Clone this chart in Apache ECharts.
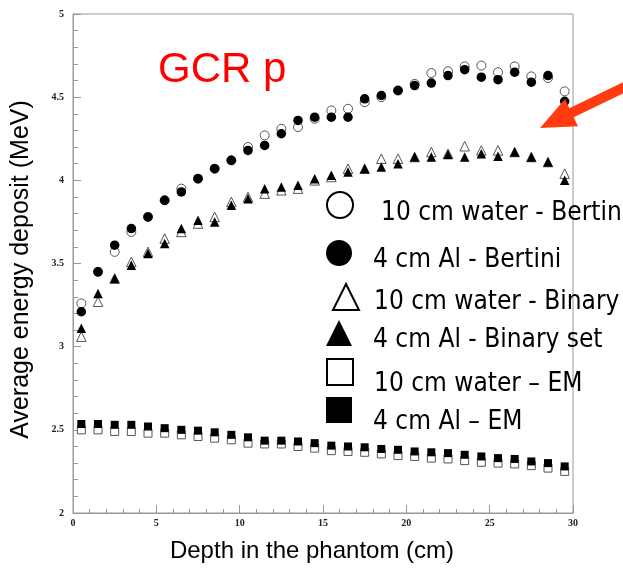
<!DOCTYPE html>
<html>
<head>
<meta charset="utf-8">
<script src="https://cdn.jsdelivr.net/npm/echarts@6/dist/echarts.min.js"></script>
<style>html,body{margin:0;padding:0;background:#fff}#c{width:623px;height:569px}</style>
</head>
<body>
<div id="c"></div>
<script>
const depth = [0.5,1.5,2.5,3.5,4.5,5.5,6.5,7.5,8.5,9.5,10.5,11.5,12.5,13.5,14.5,15.5,16.5,17.5,18.5,19.5,20.5,21.5,22.5,23.5,24.5,25.5,26.5,27.5,28.5,29.5];
const waterBertini = [3.26,3.45,3.57,3.69,3.78,3.88,3.95,4.01,4.07,4.12,4.20,4.27,4.31,4.32,4.37,4.42,4.43,4.47,4.50,4.54,4.58,4.645,4.655,4.685,4.69,4.65,4.685,4.625,4.615,4.535];
const alBertini = [3.21,3.45,3.61,3.71,3.78,3.88,3.93,4.01,4.07,4.12,4.18,4.21,4.28,4.36,4.38,4.38,4.38,4.49,4.51,4.54,4.57,4.585,4.63,4.665,4.62,4.605,4.65,4.59,4.63,4.475];
const waterBinary = [3.06,3.27,3.41,3.51,3.57,3.65,3.69,3.74,3.78,3.87,3.90,3.92,3.94,3.95,4.00,4.02,4.07,4.07,4.13,4.13,4.14,4.17,4.16,4.205,4.18,4.18,4.17,4.14,4.11,4.04];
const alBinary = [3.11,3.32,3.41,3.49,3.56,3.62,3.71,3.76,3.75,3.85,3.89,3.95,3.96,3.97,4.01,4.03,4.05,4.07,4.08,4.10,4.14,4.14,4.155,4.14,4.16,4.145,4.17,4.14,4.11,4.00];
const waterEM = [2.50,2.50,2.49,2.49,2.48,2.48,2.47,2.46,2.45,2.44,2.42,2.415,2.415,2.40,2.39,2.375,2.37,2.365,2.355,2.345,2.34,2.33,2.325,2.315,2.305,2.30,2.295,2.285,2.27,2.25];
const alEM = [2.535,2.535,2.53,2.53,2.52,2.51,2.50,2.495,2.485,2.47,2.455,2.435,2.435,2.43,2.42,2.405,2.40,2.395,2.385,2.38,2.37,2.365,2.36,2.35,2.34,2.33,2.325,2.31,2.30,2.28];
const seriesNames = ['10 cm water - Bertini','4 cm Al - Bertini','10 cm water - Binary','4 cm Al - Binary set','10 cm water \u2013 EM','4 cm Al \u2013 EM'];
const xTitle = 'Depth in the phantom (cm)';
const yTitle = 'Average energy deposit (MeV)';
const chartTitle = 'GCR p';

const pairs = vals => depth.map((d, i) => [d, vals[i]]);
const narrow = '"Liberation Sans Narrow", "Arial Narrow", "DejaVu Sans Condensed", sans-serif';
const sans = '"Liberation Sans", Arial, sans-serif';
const serif = '"Liberation Serif", "Times New Roman", serif';

const openStyle = {color: '#fff', borderColor: '#555', borderWidth: 1, opacity: 1};
const fillStyle = {color: '#000', opacity: 1};

function mkLegend(name, left, top, pt, pl, extra) {
  return {
    left: left, top: top, padding: 0, itemWidth: 26, itemHeight: 26,
    selectedMode: false, orient: 'horizontal',
    data: [Object.assign({name: name}, extra || {})],
    formatter: '{t|{name}}',
    textStyle: {rich: {t: {fontSize: 26, fontFamily: narrow, color: '#000', lineHeight: 26, padding: [pt, 0, 0, pl]}}}
  };
}
const legBorder = {itemStyle: {color: '#fff', borderColor: '#000', borderWidth: 2, opacity: 1}};
const legFill = {itemStyle: {color: '#000', opacity: 1}};

const option = {
  animation: false,
  backgroundColor: '#fff',
  title: {text: chartTitle, left: 158, top: 49, padding: 0,
    textStyle: {color: '#ff0000', fontSize: 42, fontWeight: 'normal', fontFamily: sans}},
  grid: {left: 73, right: 50, top: 14, bottom: 56, show: true, borderColor: '#999', borderWidth: 1},
  legend: [
    mkLegend(seriesNames[0], 326, 184, 16, 23, legBorder),
    mkLegend(seriesNames[1], 326, 233, 14, 16, legFill),
    mkLegend(seriesNames[2], 332, 279, 10, 10, legBorder),
    mkLegend(seriesNames[3], 326, 313, 14, 16, legFill),
    mkLegend(seriesNames[4], 326, 347, 24, 16, legBorder),
    mkLegend(seriesNames[5], 326, 385, 24, 16, legFill)
  ],
  xAxis: {
    type: 'value', min: 0, max: 30, interval: 5,
    name: xTitle, nameLocation: 'middle', nameGap: 26,
    nameTextStyle: {fontSize: 24, fontFamily: sans, color: '#000', padding: [0, 22, 0, 0]},
    axisLine: {lineStyle: {color: '#999'}},
    axisTick: {inside: true, length: 8, lineStyle: {color: '#999'}},
    minorTick: {show: true, splitNumber: 5, length: 4, lineStyle: {color: '#999'}},
    splitLine: {show: false},
    axisLabel: {fontFamily: serif, fontWeight: 'bold', fontSize: 10, color: '#222', margin: 5}
  },
  yAxis: {
    type: 'value', min: 2, max: 5, interval: 0.5,
    name: yTitle, nameLocation: 'middle', nameGap: 39, nameRotate: 90,
    nameTextStyle: {fontSize: 25, fontFamily: sans, color: '#000', padding: [0, 12, 0, 0]},
    axisLine: {show: true, lineStyle: {color: '#999'}},
    axisTick: {show: true, inside: true, length: 8, lineStyle: {color: '#999'}},
    minorTick: {show: true, splitNumber: 5, length: 5, lineStyle: {color: '#999'}},
    splitLine: {show: false},
    axisLabel: {fontFamily: serif, fontWeight: 'bold', fontSize: 10, color: '#222', margin: 9}
  },
  series: [
    {name: seriesNames[0], type: 'scatter', symbol: 'circle', symbolSize: 9, itemStyle: openStyle, data: pairs(waterBertini), z: 2},
    {name: seriesNames[1], type: 'scatter', symbol: 'circle', symbolSize: 9.5, itemStyle: fillStyle, data: pairs(alBertini), z: 3},
    {name: seriesNames[2], type: 'scatter', symbol: 'triangle', symbolSize: 9.5, itemStyle: openStyle, data: pairs(waterBinary), z: 2},
    {name: seriesNames[3], type: 'scatter', symbol: 'triangle', symbolSize: 9.5, itemStyle: fillStyle, data: pairs(alBinary), z: 3},
    {name: seriesNames[4], type: 'scatter', symbol: 'rect', symbolSize: 8, itemStyle: openStyle, data: pairs(waterEM), z: 2},
    {name: seriesNames[5], type: 'scatter', symbol: 'rect', symbolSize: 8, itemStyle: fillStyle, data: pairs(alEM), z: 3}
  ],
  graphic: [
    {type: 'polygon', silent: true, z: 10,
     shape: {points: [[540,128],[565,99],[569.3,108.3],[627.8,80],[632.2,89],[573.7,117.3],[578,126.3]]},
     style: {fill: '#ff3b0f'}}
  ]
};
const chart = echarts.init(document.getElementById('c'), null, {renderer: 'canvas'});
chart.setOption(option);
</script>
</body>
</html>
